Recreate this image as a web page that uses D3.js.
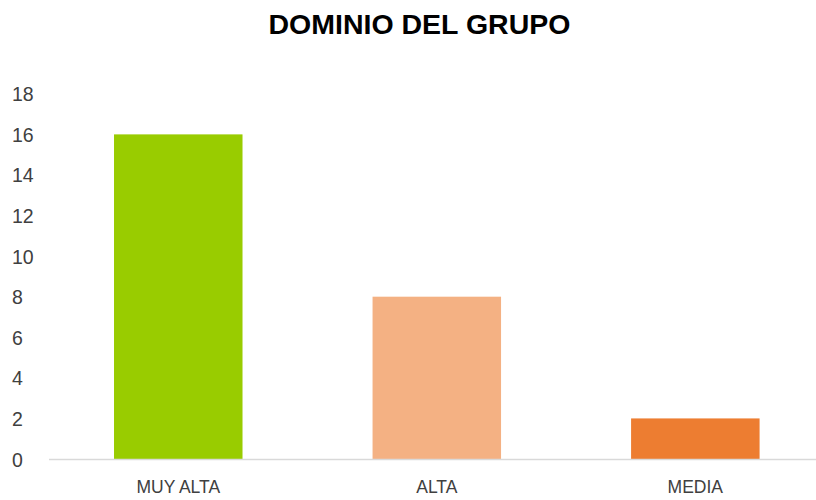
<!DOCTYPE html>
<html>
<head>
<meta charset="utf-8">
<script src="https://cdn.jsdelivr.net/npm/d3@7"></script>
<style>
  body { margin: 0; background: #fff; }
</style>
</head>
<body>
<script>
// data
const categories = ['MUY ALTA', 'ALTA', 'MEDIA'];
const values = [16, 8, 2];
const barColors = ['#99CC00', '#F4B183', '#ED7D31'];
const yTicks = [0, 2, 4, 6, 8, 10, 12, 14, 16, 18];
const title = 'DOMINIO DEL GRUPO';

let width = 816, height = 500;

let svg = d3.select('body')
  .append('svg')
  .attr('width', width)
  .attr('height', height);

let x = d3.scaleBand()
  .domain(categories)
  .range([49, 824.6])
  .paddingInner(0.503)
  .paddingOuter(0.2515);

let y = d3.scaleLinear()
  .domain([0, 18])
  .range([459, 93.8]);

// title
svg.append('text')
  .attr('x', 419.5)
  .attr('y', 34)
  .attr('text-anchor', 'middle')
  .style('font-family', 'Liberation Sans, Arial, sans-serif')
  .style('font-weight', 'bold')
  .style('font-size', '28.5px')
  .style('fill', '#000')
  .text(title);

// y tick labels, no axis line
let yAxis = svg.append('g')
  .attr('transform', 'translate(12,0)')
  .call(d3.axisLeft(y).tickValues(yTicks).tickSize(0).tickPadding(0));
yAxis.select('.domain').remove();
yAxis.selectAll('text')
  .attr('text-anchor', 'start')
  .attr('dy', '0.36em')
  .style('font-family', 'Liberation Sans, Arial, sans-serif')
  .style('font-size', '19.5px')
  .style('fill', '#404040');

// bars
svg.selectAll('rect.bar')
  .data(values)
  .enter().append('rect')
  .attr('class', 'bar')
  .attr('x', (d, i) => x(categories[i]))
  .attr('width', x.bandwidth())
  .attr('y', d => y(d))
  .attr('height', d => y(0) - y(d))
  .attr('fill', (d, i) => barColors[i]);

// baseline
svg.append('line')
  .attr('x1', 49)
  .attr('x2', width)
  .attr('y1', y(0) + 0.5)
  .attr('y2', y(0) + 0.5)
  .attr('stroke', '#d9d9d9')
  .attr('stroke-width', 1.5);

// category labels
let xAxis = svg.append('g')
  .attr('transform', 'translate(0,' + y(0) + ')')
  .call(d3.axisBottom(x).tickSize(0).tickPadding(0));
xAxis.select('.domain').remove();
xAxis.selectAll('text')
  .attr('y', 34)
  .attr('dy', 0)
  .style('font-family', 'Liberation Sans, Arial, sans-serif')
  .style('font-size', '17.5px')
  .style('fill', '#404040');
</script>
</body>
</html>
